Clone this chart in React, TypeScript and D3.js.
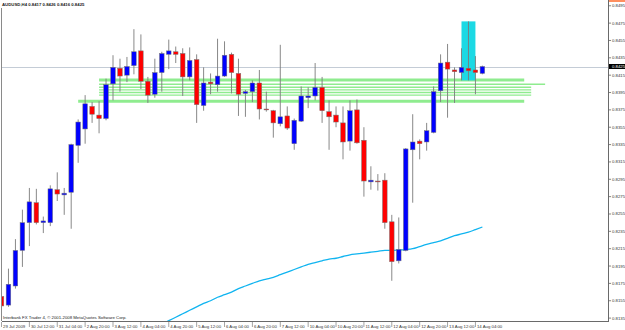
import React from "react";
import * as d3 from "d3";

const OPEN = [0.8160,0.8150,0.8172,0.8213,0.8245,0.8268,0.8245,0.8245,0.8283,0.8277,0.8280,0.8334,0.8353,0.8379,0.8369,0.8365,0.8405,0.8423,0.8415,0.8426,0.8443,0.8408,0.8393,0.8418,0.8439,0.8442,0.8440,0.8413,0.8433,0.8380,0.8407,0.8404,0.8414,0.8439,0.8417,0.8394,0.8396,0.8406,0.8376,0.8374,0.8359,0.8368,0.8336,0.8362,0.8389,0.8391,0.8401,0.8373,0.8369,0.8360,0.8339,0.8375,0.8340,0.8292,0.8293,0.8294,0.8246,0.8201,0.8213,0.8329,0.8339,0.8338,0.8349,0.8397,0.8430,0.8421,0.8418,0.8423,0.8421,0.8417];
const HIGH = [0.8175,0.8192,0.8226,0.8260,0.8285,0.8284,0.8252,0.8288,0.8303,0.8285,0.8336,0.8364,0.8392,0.8384,0.8385,0.8411,0.8438,0.8434,0.8436,0.8468,0.8462,0.8413,0.8434,0.8442,0.8456,0.8448,0.8446,0.8447,0.8439,0.8424,0.8417,0.8457,0.8454,0.8441,0.8434,0.8398,0.8409,0.8421,0.8396,0.8375,0.8450,0.8379,0.8365,0.8402,0.8401,0.8429,0.8413,0.8386,0.8379,0.8379,0.8386,0.8387,0.8355,0.8310,0.8301,0.8302,0.8254,0.8251,0.8331,0.8370,0.8341,0.8360,0.8402,0.8439,0.8451,0.8424,0.8446,0.8477,0.8437,0.8426];
const LOW = [0.8148,0.8148,0.8169,0.8194,0.8218,0.8243,0.8233,0.8241,0.8270,0.8254,0.8238,0.8314,0.8336,0.8360,0.8348,0.8363,0.8386,0.8396,0.8407,0.8416,0.8399,0.8383,0.8389,0.8396,0.8422,0.8429,0.8391,0.8409,0.8360,0.8374,0.8393,0.8396,0.8413,0.8394,0.8368,0.8367,0.8384,0.8364,0.8373,0.8343,0.8356,0.8352,0.8329,0.8361,0.8377,0.8386,0.8360,0.8329,0.8355,0.8318,0.8328,0.8336,0.8275,0.8283,0.8282,0.8238,0.8178,0.8198,0.8212,0.8268,0.8318,0.8328,0.8348,0.8384,0.8366,0.8383,0.8409,0.8409,0.8393,0.8416];
const CLOSE = [0.8149,0.8174,0.8213,0.8245,0.8269,0.8245,0.8247,0.8284,0.8278,0.8279,0.8335,0.8361,0.8382,0.8370,0.8365,0.8404,0.8424,0.8414,0.8425,0.8442,0.8408,0.8392,0.8418,0.8440,0.8443,0.8439,0.8413,0.8432,0.8381,0.8406,0.8405,0.8414,0.8438,0.8418,0.8393,0.8396,0.8406,0.8376,0.8375,0.8360,0.8367,0.8354,0.8363,0.8391,0.8391,0.8401,0.8374,0.8367,0.8361,0.8338,0.8374,0.8337,0.8293,0.8294,0.8292,0.8245,0.8200,0.8214,0.8330,0.8338,0.8336,0.8351,0.8396,0.8429,0.8422,0.8419,0.8424,0.8420,0.8418,0.8425];

const MA_START = 22;
const MA = [0.8124,0.8128,0.8132,0.8136,0.8140,0.8144,0.8148,0.8152,0.8155,0.8159,0.8162,0.8165,0.8169,0.8172,0.8175,0.8178,0.8180,0.8182,0.8185,0.8188,0.8191,0.8194,0.8197,0.8199,0.8201,0.8203,0.8204,0.8206,0.8208,0.8209,0.8210,0.8211,0.8212,0.8213,0.8213,0.82135,0.8214,0.8215,0.82175,0.8220,0.8222,0.8224,0.8227,0.8230,0.8232,0.8234,0.8237,0.8240];

const LEVEL_PRICES = [0.84094, 0.84045, 0.8401, 0.8398, 0.8395, 0.8392, 0.8385];
const LEVEL_FROM = [14, 14, 14, 14, 14, 14, 11];
const LEVEL_TO = [75, 78, 76, 76, 76, 76, 75];
const LEVEL_BOLD = [true, false, false, false, false, false, true];

const BOX_BARS = [66, 68];
const BOX_PRICES = [0.8477, 0.8409];

const TIME_LABELS = ["29 Jul 2009","30 Jul 12:00","31 Jul 04:00","2 Aug 20:00","3 Aug 12:00","4 Aug 04:00","4 Aug 20:00","5 Aug 12:00","6 Aug 04:00","6 Aug 20:00","7 Aug 12:00","10 Aug 04:00","10 Aug 20:00","11 Aug 12:00","12 Aug 04:00","12 Aug 20:00","13 Aug 12:00","14 Aug 04:00"];
const TIME_LABEL_STEP = 4;

const PRICE_TICKS = [0.8495,0.8475,0.8455,0.8435,0.8415,0.8395,0.8375,0.8355,0.8335,0.8315,0.8295,0.8275,0.8255,0.8235,0.8215,0.8195,0.8175,0.8155,0.8135];
const BID = 0.8425;
const HEADER = "AUDUSD,H4  0.8417 0.8426 0.8416 0.8425";
const COPYRIGHT = "Interbank FX Trader 4, \u00a9 2001-2008 MetaQuotes Software Corp.";

const W = 625, H = 330;
const PLOT_L = 2, PLOT_R = 608, PLOT_T = 0, PLOT_B = 321;
const FONT = "'Liberation Sans', Arial, sans-serif";
const FS = 4.3;

export default function App() {
  const x = d3.scaleLinear().domain([0, 69]).range([1.5, 482.4]);
  const y = d3.scaleLinear().domain([0.8425, 0.8135]).range([66.5, 318.1]);
  const bw = 4.6;
  const line = d3.line<number>().x((_, i) => x(i + MA_START)).y((d) => y(d)).curve(d3.curveMonotoneX);

  return (
    <svg width={W} height={H} style={{ position: "absolute", left: 0, top: 0, background: "#fff" }} fontFamily={FONT}>
      <defs>
        <clipPath id="plot">
          <rect x={PLOT_L} y={PLOT_T} width={PLOT_R - PLOT_L} height={PLOT_B - PLOT_T} />
        </clipPath>
      </defs>
      <rect x={0} y={0} width={W} height={H} fill="#fff" />
      <g clipPath="url(#plot)">
        {/* bid line */}
        <line x1={PLOT_L} x2={PLOT_R} y1={Math.round(y(BID)) + 0.5} y2={Math.round(y(BID)) + 0.5} stroke="#c4ccd6" strokeWidth={1} />
        {/* levels */}
        {LEVEL_PRICES.map((p, k) => (
          <line key={"lv" + k} x1={x(LEVEL_FROM[k])} x2={x(LEVEL_TO[k])} y1={y(p)} y2={y(p)} stroke="#8fec8f" strokeWidth={LEVEL_BOLD[k] ? 3 : 1.4} />
        ))}
        {/* rectangle */}
        <rect x={x(BOX_BARS[0])} y={y(BOX_PRICES[0])} width={x(BOX_BARS[1]) - x(BOX_BARS[0])} height={y(BOX_PRICES[1]) - y(BOX_PRICES[0])} fill="#1cd9e4" />
        {/* moving average */}
        <path d={line(MA) || ""} fill="none" stroke="#10b4f0" strokeWidth={1.3} />
        {/* candles */}
        {OPEN.map((o, i) => {
          const c = CLOSE[i];
          const cx = x(i);
          const top = y(Math.max(o, c));
          const bot = y(Math.min(o, c));
          const up = c >= o;
          return (
            <g key={"c" + i}>
              <line x1={cx} x2={cx} y1={y(HIGH[i])} y2={y(LOW[i])} stroke="#7a7a7a" strokeWidth={0.9} />
              <rect x={cx - bw / 2} y={top} width={bw} height={Math.max(bot - top, 0.9)} fill={up ? "#0000ff" : "#ff0000"} stroke="#777" strokeWidth={0.5} />
            </g>
          );
        })}
      </g>
      {/* frame */}
      <line x1={1.5} x2={1.5} y1={8} y2={PLOT_B} stroke="#8a8a8a" strokeWidth={1} />
      <line x1={PLOT_L} x2={PLOT_R} y1={PLOT_B + 0.5} y2={PLOT_B + 0.5} stroke="#6a6a6a" strokeWidth={1} />
      <line x1={PLOT_R + 0.5} x2={PLOT_R + 0.5} y1={0} y2={PLOT_B + 1} stroke="#6a6a6a" strokeWidth={1} />
      <line x1={PLOT_R + 1} x2={W} y1={1} y2={1} stroke="#ff6a2a" strokeWidth={1.5} />
      {/* header */}
      <text x={2} y={6} fontSize={FS} fill="#222" fontWeight="bold">{HEADER}</text>
      <text x={3} y={318.5} fontSize={FS} fill="#222">{COPYRIGHT}</text>
      {/* price axis */}
      {PRICE_TICKS.map((p) => (
        <g key={"p" + p}>
          <line x1={PLOT_R} x2={PLOT_R + 3} y1={y(p)} y2={y(p)} stroke="#666" strokeWidth={0.8} />
          <text x={PLOT_R + 4} y={y(p) + 1.5} fontSize={FS} fill="#333">{p.toFixed(4)}</text>
        </g>
      ))}
      <rect x={PLOT_R + 1} y={y(BID) - 2.5} width={W - PLOT_R - 1} height={5} fill="#000" />
      <text x={PLOT_R + 4} y={y(BID) + 1.5} fontSize={FS} fill="#fff">{BID.toFixed(4)}</text>
      {/* time axis */}
      {TIME_LABELS.map((t, k) => {
        const tx = x(k * TIME_LABEL_STEP);
        return (
          <g key={"t" + k}>
            <line x1={Math.max(tx, 1.5)} x2={Math.max(tx, 1.5)} y1={PLOT_B + 1} y2={PLOT_B + 6} stroke="#666" strokeWidth={0.6} />
            <text x={Math.max(tx, 1.5) + 1.5} y={327.5} fontSize={FS} fill="#333">{t}</text>
          </g>
        );
      })}
    </svg>
  );
}
